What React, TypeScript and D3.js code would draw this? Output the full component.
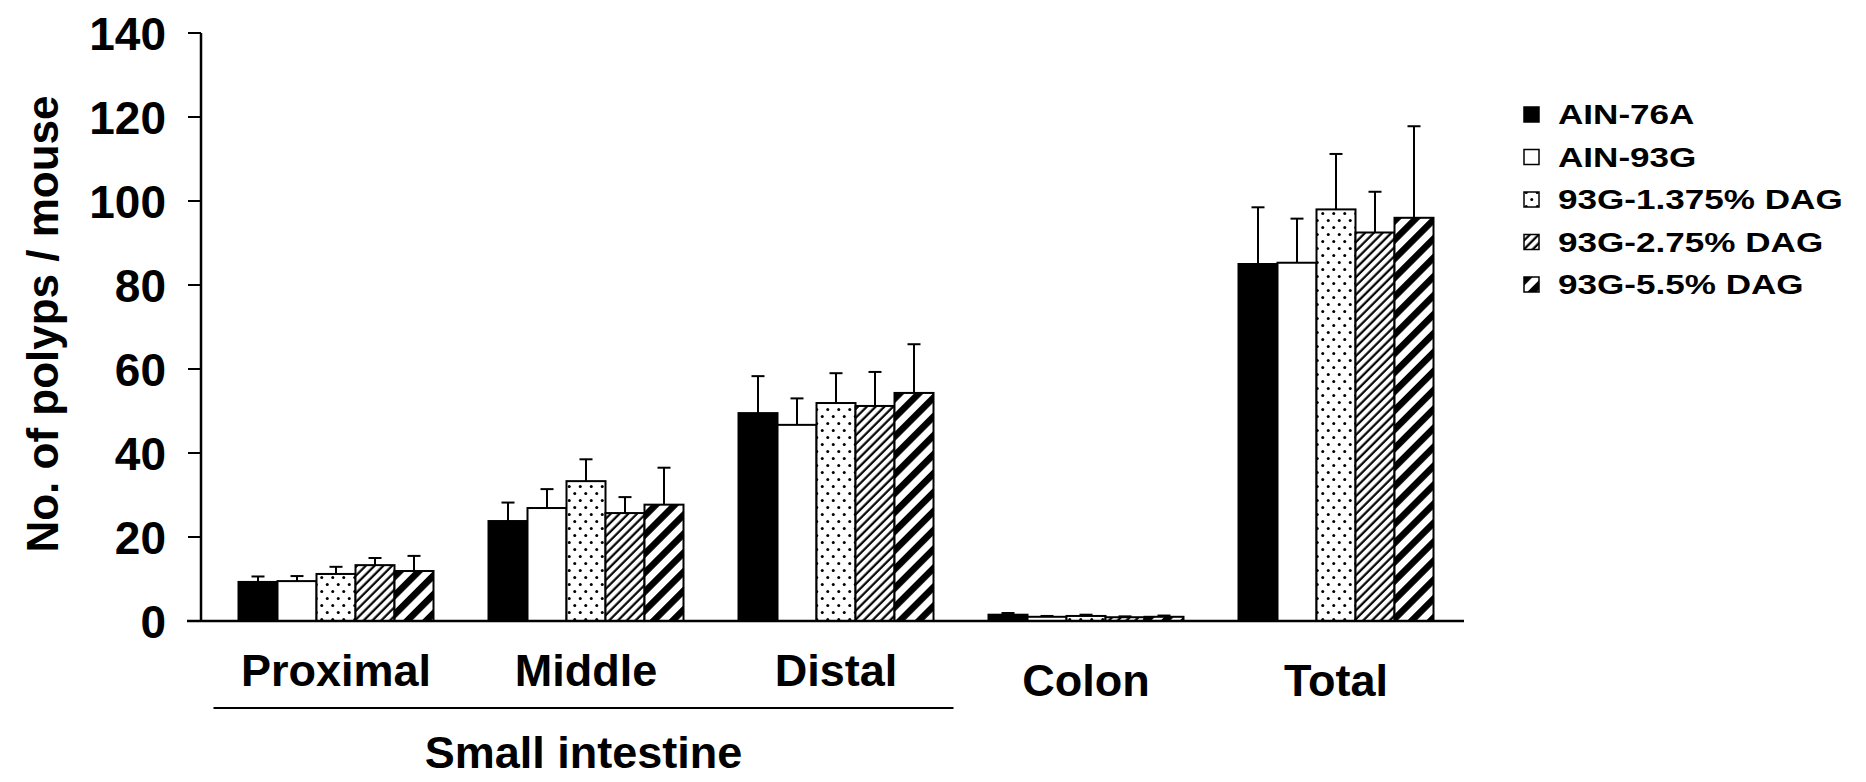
import * as d3 from "d3";

const sites = ["Proximal", "Middle", "Distal", "Colon", "Total"];
const smallIntestine = ["Proximal", "Middle", "Distal"];
const diets = ["AIN-76A", "AIN-93G", "93G-1.375% DAG", "93G-2.75% DAG", "93G-5.5% DAG"];

// mean polyps per mouse, one array per diet, in the order of `sites`
const ain76a = [9.3, 23.8, 49.5, 1.5, 85.0];
const ain93g = [9.5, 26.9, 46.7, 1.0, 85.3];
const dag1375 = [11.2, 33.3, 51.9, 1.2, 98.0];
const dag275 = [13.3, 25.7, 51.2, 0.9, 92.5];
const dag55 = [11.9, 27.7, 54.3, 1.0, 96.0];

// mean + SE (top of error bar)
const ain76aTop = [10.6, 28.2, 58.3, 1.9, 98.5];
const ain93gTop = [10.7, 31.4, 53.0, 1.2, 95.8];
const dag1375Top = [12.9, 38.5, 59.0, 1.5, 111.2];
const dag275Top = [15.0, 29.5, 59.3, 1.1, 102.2];
const dag55Top = [15.5, 36.5, 65.9, 1.3, 117.8];

const yTicks = [0, 20, 40, 60, 80, 100, 120, 140];

const means = [ain76a, ain93g, dag1375, dag275, dag55];
const tops = [ain76aTop, ain93gTop, dag1375Top, dag275Top, dag55Top];
const fills = ["#000", "#fff", "url(#dots)", "url(#hatch)", "url(#stripes)"];

const W = 1866, H = 782;
const font = "'Liberation Sans', Arial, Helvetica, sans-serif";

export default function App() {
  const x = d3.scaleBand<string>().domain(sites).range([211, 1461]).paddingInner(0.22).paddingOuter(0.11);
  const xs = d3.scaleBand<string>().domain(diets).range([0, x.bandwidth()]);
  const y = d3.scaleLinear().domain([0, 140]).range([621, 33]);

  const bars = sites.flatMap((s, i) =>
    diets.map((d, j) => ({ site: s, diet: d, j, v: means[j][i], top: tops[j][i] }))
  );

  const siLeft = x(smallIntestine[0])! - 25;
  const siRight = x(smallIntestine[2])! + x.bandwidth() + 20;

  return (
    <svg width={W} height={H} style={{ position: "absolute", left: 0, top: 0, background: "#fff" }}>
      <defs>
        <pattern id="dots" patternUnits="userSpaceOnUse" width={11} height={14}>
          <rect width={11} height={14} fill="#fff" />
          <circle cx={2.75} cy={3.5} r={1.5} fill="#000" />
          <circle cx={8.25} cy={10.5} r={1.5} fill="#000" />
        </pattern>
        <pattern id="hatch" patternUnits="userSpaceOnUse" width={6.2} height={10} patternTransform="rotate(45)">
          <rect width={6.2} height={10} fill="#fff" />
          <line x1={1.5} y1={0} x2={1.5} y2={10} stroke="#000" strokeWidth={2.2} />
        </pattern>
        <pattern id="stripes" patternUnits="userSpaceOnUse" width={13.4} height={10} patternTransform="rotate(45)">
          <rect width={13.4} height={10} fill="#fff" />
          <rect x={0} y={0} width={6.6} height={10} fill="#000" />
        </pattern>
      </defs>

      {/* bars */}
      {bars.map((b) => {
        const bx = x(b.site)! + xs(b.diet)!;
        return (
          <rect key={b.site + b.diet} x={bx} y={y(b.v)} width={xs.bandwidth()} height={y(0) - y(b.v)}
            fill={fills[b.j]} stroke="#000" strokeWidth={2} />
        );
      })}

      {/* error bars */}
      {bars.map((b) => {
        const cx = x(b.site)! + xs(b.diet)! + xs.bandwidth() / 2;
        return (
          <g key={"e" + b.site + b.diet} stroke="#000" strokeWidth={2}>
            <line x1={cx} x2={cx} y1={y(b.v)} y2={y(b.top)} />
            <line x1={cx - 6.5} x2={cx + 6.5} y1={y(b.top)} y2={y(b.top)} />
          </g>
        );
      })}

      {/* axes */}
      <line x1={201} x2={201} y1={y(140)} y2={y(0)} stroke="#000" strokeWidth={2.5} />
      <line x1={187} x2={1464} y1={y(0)} y2={y(0)} stroke="#000" strokeWidth={2.5} />
      {yTicks.map((t) => (
        <g key={t}>
          <line x1={188} x2={201} y1={y(t)} y2={y(t)} stroke="#000" strokeWidth={2} />
          <text x={166} y={y(t) + 16.5} textAnchor="end" fontFamily={font} fontWeight="bold" fontSize={46}>
            {t}
          </text>
        </g>
      ))}

      <text transform={`translate(58,324) rotate(-90)`} textAnchor="middle" fontFamily={font}
        fontWeight="bold" fontSize={44}>
        No. of polyps / mouse
      </text>

      {/* category labels */}
      {sites.map((s) => (
        <text key={s} x={x(s)! + x.bandwidth() / 2} y={smallIntestine.includes(s) ? 686 : 696}
          textAnchor="middle" fontFamily={font} fontWeight="bold" fontSize={45}>
          {s}
        </text>
      ))}
      <line x1={siLeft} x2={siRight} y1={708} y2={708} stroke="#000" strokeWidth={2} />
      <text x={(siLeft + siRight) / 2} y={768} textAnchor="middle" fontFamily={font} fontWeight="bold" fontSize={45}>
        Small intestine
      </text>

      {/* legend */}
      {diets.map((d, j) => {
        const ly = 124 + j * 42.5;
        return (
          <g key={d}>
            <rect x={1524} y={ly - 17} width={15} height={15} fill={fills[j]} stroke="#000" strokeWidth={1.5} />
            <text transform={`translate(1558,${ly}) scale(1.3,1)`} fontFamily={font} fontWeight="bold" fontSize={27}>
              {d}
            </text>
          </g>
        );
      })}
    </svg>
  );
}
